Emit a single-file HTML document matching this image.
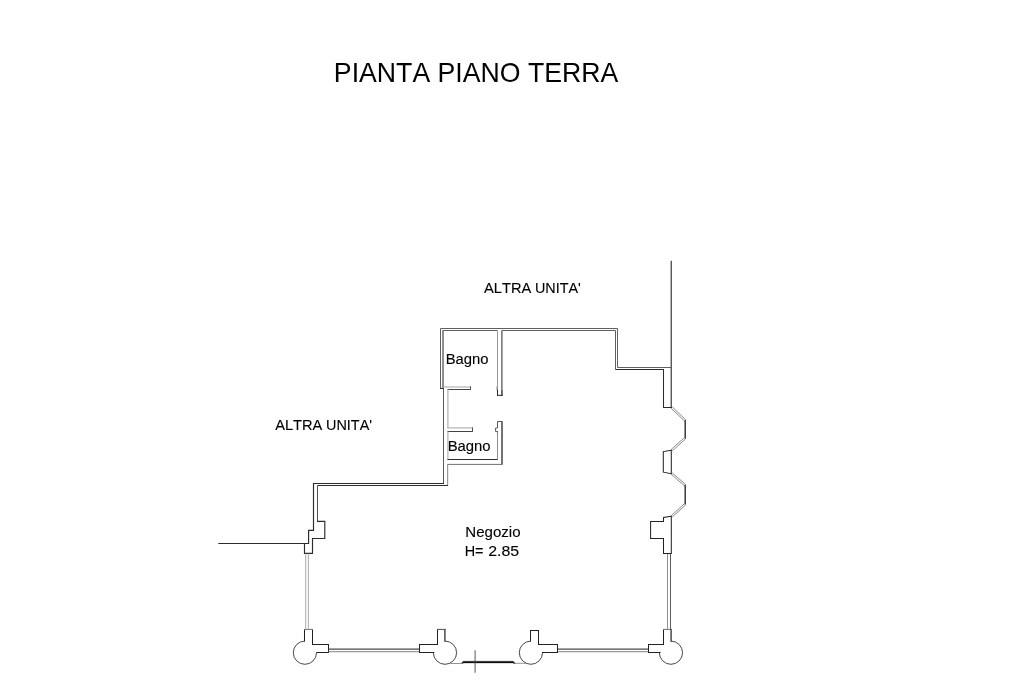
<!DOCTYPE html>
<html lang="it">
<head>
<meta charset="utf-8">
<title>Pianta Piano Terra</title>
<style>
html,body{margin:0;padding:0;background:#fff;}
body{width:1024px;height:682px;overflow:hidden;position:relative;font-family:"Liberation Sans",sans-serif;}
svg{position:absolute;left:0;top:0;display:block;will-change:transform;transform:translateZ(0);}
text{font-family:"Liberation Sans",sans-serif;fill:#000;font-kerning:none;stroke:#000;stroke-width:0.12px;}
#t1{stroke-width:0;}
path{fill:none;stroke-linejoin:miter;stroke-linecap:butt;}
.w{stroke:#484848;stroke-width:1;}
.m{stroke:#606060;stroke-width:1;}
.d{stroke:#2c2c2c;stroke-width:1.05;}
.l{stroke:#b2b2b2;stroke-width:1.2;}
.t{stroke:#555;stroke-width:0.8;}
.c{stroke:#333;stroke-width:0.9;}
.p{stroke:#222;stroke-width:1.02;}
</style>
</head>
<body>
<svg width="1024" height="682" viewBox="0 0 1024 682">
<rect width="1024" height="682" fill="#fff"/>
<!-- text -->
<text id="t1" x="333.85" y="81.5" font-size="27.7" textLength="284.52" lengthAdjust="spacingAndGlyphs">PIANTA PIANO TERRA</text>
<text id="a1" y="292.9" font-size="15.3"><tspan x="484.05" textLength="47.25" lengthAdjust="spacingAndGlyphs">ALTRA</tspan> <tspan x="534.88" textLength="45.86" lengthAdjust="spacingAndGlyphs">UNITA'</tspan></text>
<text id="a3" y="430.3" font-size="15.3"><tspan x="275.18" textLength="47.12" lengthAdjust="spacingAndGlyphs">ALTRA</tspan> <tspan x="326.0" textLength="46.02" lengthAdjust="spacingAndGlyphs">UNITA'</tspan></text>
<text id="b1" x="445.65" y="364.2" font-size="15.3" textLength="42.88" lengthAdjust="spacingAndGlyphs">Bagno</text>
<text id="b2" x="447.65" y="450.6" font-size="15.3" textLength="42.93" lengthAdjust="spacingAndGlyphs">Bagno</text>
<text id="ng" x="465.25" y="536.8" font-size="15.3" textLength="55.32" lengthAdjust="spacingAndGlyphs">Negozio</text>
<text id="h1" y="555.9" font-size="15.3"><tspan x="464.7" textLength="18.84" lengthAdjust="spacingAndGlyphs">H=</tspan> <tspan x="488.2" textLength="30.98" lengthAdjust="spacingAndGlyphs">2.85</tspan></text>
<!-- plan -->
<path class="w" style="stroke:#484848;stroke-width:1.3" d="M671.25 260.8V407.4"/>
<path class="m" d="M440.5 388.9V328.5H617.5V367.5H671.4"/>
<path class="m" d="M443 330.5H497.5M501.8 330.5H615.5V369.5"/>
<path class="m" style="stroke-width:1.5;stroke:#6a6a6a" d="M443 330V388.3"/>
<path class="d" d="M440 388.5H444"/>
<path class="m" style="stroke:#999" d="M497.5 330.5V389.5"/>
<path class="d" d="M497.5 389.5V395.5"/>
<path class="m" style="stroke:#777;stroke-width:1.6" d="M501.85 330.5V389.5"/>
<path class="m" style="stroke:#555;stroke-width:1.7" d="M501.95 389.5V395.5"/>
<path class="d" d="M497 395.35H502.8"/>
<path class="l" style="stroke-width:0.8" d="M496.5 386.5V390.5"/>
<path class="d" d="M615.5 369.5H663.5V407.5H672"/>
<path class="w" style="stroke:#585858" d="M443.5 388.5V483.5"/>
<path class="l" d="M443.5 387H470.5"/>
<path class="w" style="stroke:#444" d="M447.4 389.5H470.5"/>
<path class="w" style="stroke:#555" d="M470.5 386.3V390"/>
<path class="l" d="M447.9 389.5V428"/>
<path class="l" d="M447.4 427.9H472.5"/>
<path class="w" style="stroke:#444" d="M447.4 431.5H472.5"/>
<path class="w" style="stroke:#555" d="M472.5 427.3V432"/>
<path class="l" d="M447.9 431.5V459.5"/>
<path class="d" style="stroke-width:1.2" d="M447.4 459.5H497.9"/>
<path class="m" style="stroke:#8c8c8c" d="M497.5 431.7V459.5"/>
<path class="w" style="stroke:#585858" d="M498 431.6H495.6V428H497.5V421.5H502"/>
<path class="w" style="stroke:#505050;stroke-width:1.6" d="M502 421.2V464.8"/>
<path class="m" style="stroke:#707070" d="M447.4 464.4H502"/>
<path class="l" style="stroke:#999" d="M447.6 464.3V485.5"/>
<path class="d" style="stroke-width:1.15" d="M444 483.5H313.5V530.3H308.6V543.5H218.3"/>
<path class="d" d="M448 485.5H317.5"/>
<path class="w" style="stroke:#505050;stroke-width:1" d="M317.5 485.5V521.4"/>
<path class="d" style="stroke-width:1.15" d="M317 521.4H324.8V538.5H312.5V553.4H304.5V543.5"/>
<path class="l" style="stroke:#b4b4b4;stroke-width:1.1" d="M305.7 553.8V628.8M308.4 553.8V628.8"/>
<path class="p" d="M304.5 641.5V629.4M312.5 629.4V644.4H328.5V652.6H316.3"/>
<path class="p" style="stroke:#707070" d="M304 629.4H313"/>
<path class="c" d="M316.50 652.70A11.60 11.60 0 1 1 304.90 641.10"/>
<path class="w" style="stroke-width:1.2;stroke:#484848" d="M328.7 649.1H419.4M557.8 649.1H648.2"/>
<path class="l" style="stroke-width:1.2;stroke:#999" d="M328.7 651.7H419.4M557.8 651.7H648.2"/>
<path class="p" d="M437.5 629.4V644.4H419.5V652.6H434.3"/>
<path class="p" style="stroke:#505050" d="M437 629.4H445.7"/>
<path class="p" style="stroke:#606060;stroke-width:1.7" d="M444.9 628.9V641.7"/>
<path class="c" d="M433.40 652.70A11.60 11.60 0 1 0 445.00 641.10"/>
<path style="fill:#111;stroke:#111;stroke-width:0.3" d="M461.3 663.2L463.3 661.2H513.2L515.4 663.4H513.6L513 663H463.4L463 663.4Z"/>
<path class="t" style="stroke:#777" d="M450.3 663.5H461.6M515.2 663.3H526"/>
<path class="t" style="stroke:#444;stroke-width:0.9" d="M475.1 650.3V672.8"/>
<path class="p" d="M530.5 641.5V630.5H538.5V644.4H557.5V652.6H542"/>
<path class="c" d="M542.50 652.70A11.60 11.60 0 1 1 530.90 641.10"/>
<path class="p" d="M663.5 629.4V644.4H648.5V652.6H660.6"/>
<path class="p" style="stroke:#707070" d="M663 629.4H671.9"/>
<path class="p" style="stroke:#606060;stroke-width:1.7" d="M671.1 628.9V641.7"/>
<path class="c" d="M659.35 652.70A11.60 11.60 0 1 0 670.95 641.10"/>
<path class="l" style="stroke:#909090;stroke-width:1" d="M667.5 553.5V629.1"/>
<path class="w" style="stroke:#5a5a5a;stroke-width:1" d="M670.5 553.5V629.1"/>
<path class="p" d="M671.3 516.3L663.5 517.4V521.4H650.6V538.5H663.5V553.5H671.3Z"/>
<path class="t" style="stroke:#4a4a4a;stroke-width:0.65" d="M671.01 408.11L684.51 421.01M672.19 406.89L685.69 419.79"/>
<path class="t" style="stroke:#4a4a4a;stroke-width:0.65" d="M684.53 437.57L671.03 449.67M685.67 438.83L672.17 450.93"/>
<path class="t" style="stroke:#4a4a4a;stroke-width:0.65" d="M671.04 474.14L684.54 485.84M672.16 472.86L685.66 484.56"/>
<path class="t" style="stroke:#4a4a4a;stroke-width:0.65" d="M684.53 503.67L671.03 515.77M685.67 504.93L672.17 517.03"/>
<path class="d" style="stroke-width:1.4" d="M685.2 420V438.5M685.2 484.8V504.6"/>
<path class="p" d="M671.3 450.2L663.3 451.6V472.2L671.3 473.7Z"/>
</svg>
</body>
</html>
